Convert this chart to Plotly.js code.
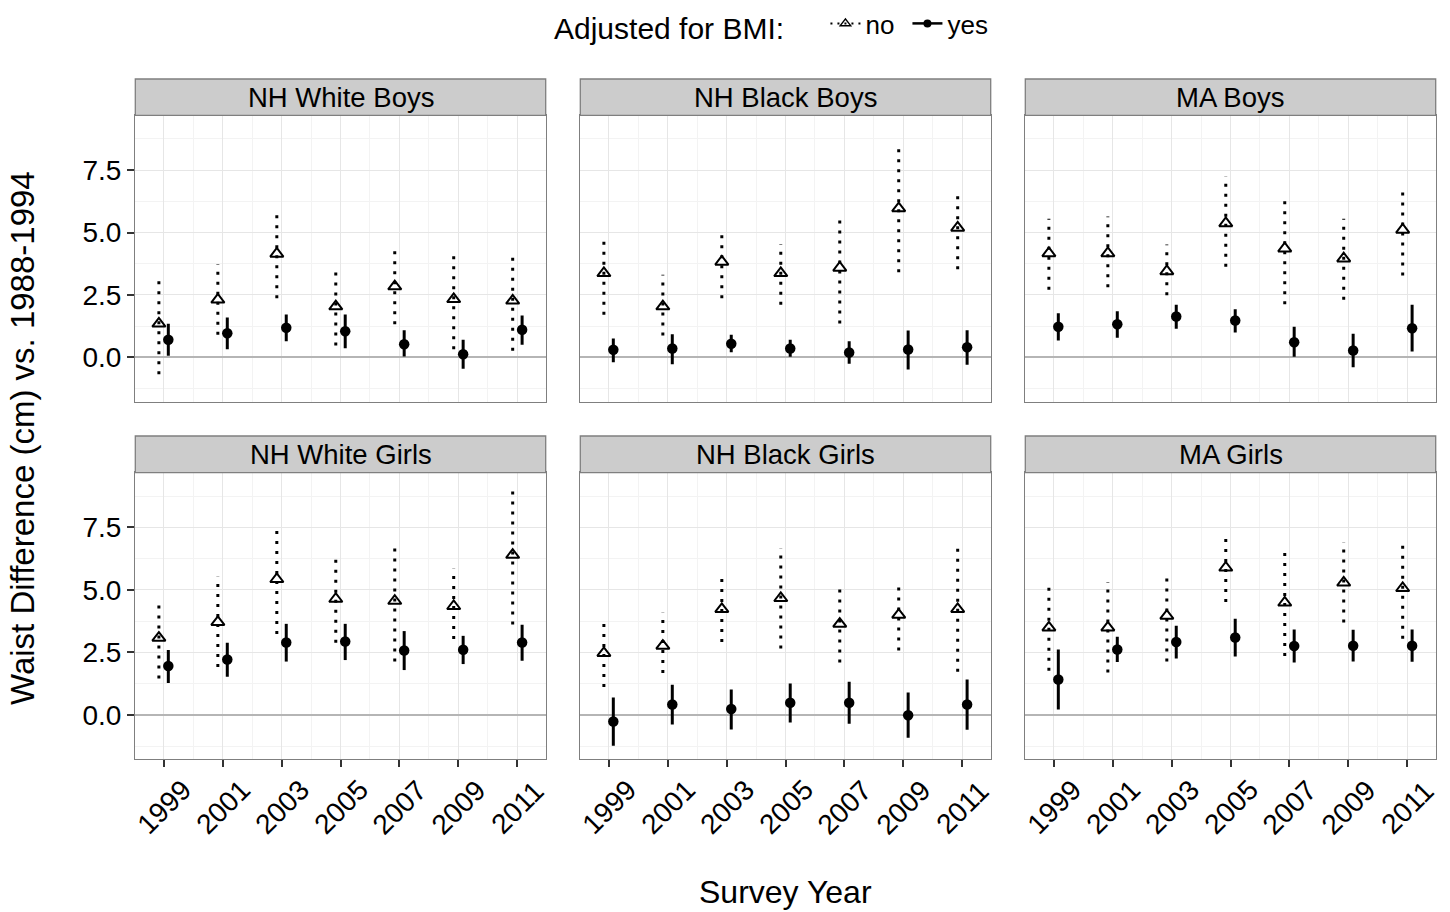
<!DOCTYPE html>
<html>
<head>
<meta charset="utf-8">
<script src="https://cdn.plot.ly/plotly-3.0.1.min.js"></script>
<style>html,body{margin:0;padding:0;background:#fff}#chart{width:1450px;height:912px}</style>
</head>
<body>
<div id="chart"></div>
<script>
// ---- data ----
const years = [1999, 2001, 2003, 2005, 2007, 2009, 2011];
const yearLabels = ['1999', '2001', '2003', '2005', '2007', '2009', '2011'];
const panelNames = ['NH White Boys', 'NH Black Boys', 'MA Boys', 'NH White Girls', 'NH Black Girls', 'MA Girls'];
const seriesNames = ['no', 'yes'];

// Not adjusted for BMI (estimate, lower, upper) — one row per panel
const noEst = [
  [1.35, 2.31, 4.15, 2.04, 2.84, 2.33, 2.27],
  [3.37, 2.04, 3.83, 3.37, 3.59, 5.97, 5.19],
  [4.17, 4.17, 3.45, 5.37, 4.36, 3.96, 5.11],
  [3.08, 3.71, 5.43, 4.64, 4.56, 4.35, 6.40],
  [2.47, 2.76, 4.23, 4.67, 3.64, 4.00, 4.23],
  [3.49, 3.49, 3.96, 5.89, 4.49, 5.29, 5.07]
];
const noLow = [
  [-0.67, 0.91, 2.37, 0.48, 1.33, 0.33, 0.27],
  [1.71, 0.88, 2.37, 2.11, 1.36, 3.41, 3.53],
  [2.71, 2.81, 2.49, 3.63, 2.13, 2.31, 3.28],
  [1.45, 1.91, 3.23, 2.88, 2.13, 3.03, 3.61],
  [1.11, 1.67, 2.91, 2.65, 2.09, 2.57, 1.72],
  [1.76, 1.69, 2.13, 4.51, 2.35, 3.69, 3.04]
];
const noHigh = [
  [3.33, 3.73, 5.97, 3.68, 4.53, 4.27, 4.24],
  [4.88, 3.31, 5.17, 4.53, 5.73, 8.61, 6.72],
  [5.55, 5.64, 4.52, 7.24, 6.47, 5.55, 6.85],
  [4.65, 5.53, 7.61, 6.48, 6.89, 5.85, 9.20],
  [3.91, 4.08, 5.69, 6.67, 5.29, 5.37, 6.91],
  [5.36, 5.31, 5.68, 7.32, 6.75, 6.91, 7.05]
];
// Adjusted for BMI (estimate, lower, upper)
const yesEst = [
  [0.71, 0.97, 1.19, 1.05, 0.53, 0.13, 1.11],
  [0.31, 0.36, 0.55, 0.36, 0.20, 0.32, 0.41],
  [1.23, 1.33, 1.64, 1.48, 0.61, 0.28, 1.17],
  [1.95, 2.21, 2.89, 2.93, 2.57, 2.60, 2.89],
  [-0.27, 0.41, 0.23, 0.48, 0.48, -0.02, 0.41],
  [1.41, 2.61, 2.91, 3.09, 2.75, 2.76, 2.76]
];
const yesLow = [
  [0.07, 0.33, 0.65, 0.37, 0.04, -0.45, 0.51],
  [-0.19, -0.27, 0.21, 0.03, -0.25, -0.48, -0.29],
  [0.68, 0.79, 1.15, 1.00, 0.03, -0.39, 0.24],
  [1.27, 1.52, 2.13, 2.19, 1.79, 2.03, 2.16],
  [-1.24, -0.39, -0.59, -0.31, -0.36, -0.92, -0.60],
  [0.21, 2.11, 2.25, 2.33, 2.09, 2.13, 2.12]
];
const yesHigh = [
  [1.35, 1.60, 1.72, 1.72, 1.09, 0.71, 1.68],
  [0.76, 0.93, 0.91, 0.71, 0.65, 1.08, 1.09],
  [1.77, 1.85, 2.11, 1.93, 1.23, 0.95, 2.11],
  [2.59, 2.88, 3.64, 3.64, 3.35, 3.16, 3.60],
  [0.69, 1.20, 1.01, 1.25, 1.32, 0.89, 1.41],
  [2.61, 3.12, 3.56, 3.84, 3.41, 3.40, 3.41]
];

// ---- layout geometry ----
const W = 1450, H = 912;
const FONT = 'Liberation Sans, Arial, Helvetica, sans-serif';
const colPx = [[135.3, 545.7], [580.3, 990.7], [1025.3, 1435.7]];
const rowPx = [[115.3, 401.7], [472.7, 759]];
const stripPx = [[79, 115.3], [436, 472.7]];
const dodge = 0.16;
const xRange = [1998.04, 2011.96];
const yRange = [-1.77, 9.69];

const traces = [];
const layout = {
  width: W, height: H,
  margin: {l: 0, r: 0, t: 0, b: 0},
  paper_bgcolor: '#ffffff', plot_bgcolor: '#ffffff',
  font: {family: FONT, color: '#000000'},
  showlegend: true,
  legend: {
    orientation: 'h', x: 552 / W, xanchor: 'left', y: 1, yanchor: 'top',
    title: {text: 'Adjusted for BMI:&nbsp;&nbsp;&nbsp;&nbsp;', side: 'left', font: {family: FONT, size: 30, color: '#000'}},
    font: {family: FONT, size: 26, color: '#000'},
    bgcolor: 'rgba(0,0,0,0)', itemwidth: 30, tracegroupgap: 0,
    entrywidth: 37, entrywidthmode: 'pixels'
  },
  shapes: [], annotations: []
};

function lineXY(xs, lo, hi) {
  const x = [], y = [];
  for (let i = 0; i < xs.length; i++) {
    x.push(xs[i], xs[i], null);
    y.push(lo[i], hi[i], null);
  }
  return {x, y};
}

for (let p = 0; p < panelNames.length; p++) {
  const r = Math.floor(p / 3), c = p % 3, idx = p + 1;
  const xa = 'x' + (idx === 1 ? '' : idx), ya = 'y' + (idx === 1 ? '' : idx);
  const xkey = 'xaxis' + (idx === 1 ? '' : idx), ykey = 'yaxis' + (idx === 1 ? '' : idx);
  layout[xkey] = {
    domain: [colPx[c][0] / W, colPx[c][1] / W], anchor: ya, range: xRange,
    tickmode: 'array', tickvals: years, ticktext: yearLabels,
    showticklabels: false, ticks: r === 1 ? 'outside' : '', ticklen: 7, tickwidth: 2, tickcolor: '#333',
    showgrid: true, gridcolor: '#e6e6e6', gridwidth: 1,
    minor: {dtick: 1, tick0: 1999, showgrid: true, gridcolor: '#f3f3f3', gridwidth: 1, ticks: ''},
    zeroline: false, showline: true, mirror: true, linecolor: '#7f7f7f', linewidth: 1.3,
    fixedrange: true
  };
  layout[ykey] = {
    domain: [1 - rowPx[r][1] / H, 1 - rowPx[r][0] / H], anchor: xa, range: yRange,
    tickmode: 'linear', tick0: 0, dtick: 2.5, tickformat: '.1f',
    showticklabels: c === 0, ticks: c === 0 ? 'outside' : '', ticklen: 7, tickwidth: 2, tickcolor: '#333',
    tickfont: {family: FONT, size: 28, color: '#000'},
    showgrid: true, gridcolor: '#e6e6e6', gridwidth: 1,
    minor: {dtick: 1.25, tick0: 0, showgrid: true, gridcolor: '#f3f3f3', gridwidth: 1, ticks: ''},
    zeroline: true, zerolinecolor: '#b5b5b5', zerolinewidth: 2,
    showline: true, mirror: true, linecolor: '#7f7f7f', linewidth: 1.3,
    fixedrange: true
  };

  const xNo = years.map(v => v - dodge);
  const xYes = years.map(v => v + dodge);
  const lNo = lineXY(xNo, noLow[p], noHigh[p]);
  const lYes = lineXY(xYes, yesLow[p], yesHigh[p]);
  traces.push({type: 'scatter', mode: 'lines', x: lNo.x, y: lNo.y, xaxis: xa, yaxis: ya,
    line: {color: '#000', width: 3, dash: '3px,7px'}, showlegend: false, hoverinfo: 'skip', connectgaps: false});
  traces.push({type: 'scatter', mode: 'lines', x: lYes.x, y: lYes.y, xaxis: xa, yaxis: ya,
    line: {color: '#000', width: 3}, showlegend: false, hoverinfo: 'skip', connectgaps: false});
  traces.push({type: 'scatter', mode: 'markers', x: xNo, y: noEst[p], xaxis: xa, yaxis: ya, name: seriesNames[0],
    marker: {symbol: 'triangle-up-open', size: 11.5, color: '#000', line: {color: '#000', width: 2}}, showlegend: false});
  traces.push({type: 'scatter', mode: 'markers', x: xYes, y: yesEst[p], xaxis: xa, yaxis: ya, name: seriesNames[1],
    marker: {symbol: 'circle', size: 10.5, color: '#000'}, showlegend: false});

  // strip
  layout.shapes.push({type: 'rect', xref: 'paper', yref: 'paper', layer: 'above',
    x0: colPx[c][0] / W, x1: colPx[c][1] / W, y0: 1 - stripPx[r][1] / H, y1: 1 - stripPx[r][0] / H,
    fillcolor: '#cccccc', line: {color: '#7f7f7f', width: 1.3}});
  layout.annotations.push({xref: 'paper', yref: 'paper', showarrow: false,
    x: (colPx[c][0] + colPx[c][1]) / 2 / W, y: 1 - (stripPx[r][0] + stripPx[r][1]) / 2 / H,
    xanchor: 'center', yanchor: 'middle', text: panelNames[p],
    font: {family: FONT, size: 27.5, color: '#000'}});

  // rotated x tick labels, centred on each tick (bottom row only)
  if (r === 1) {
    for (let i = 0; i < years.length; i++) {
      layout.annotations.push({xref: xa, yref: 'paper', showarrow: false,
        x: years[i], y: 1 - 807 / H, xanchor: 'center', yanchor: 'middle', textangle: -45,
        text: yearLabels[i], font: {family: FONT, size: 28, color: '#000'}});
    }
  }
}

// legend-only keys
traces.push({type: 'scatter', mode: 'lines+markers', x: [null], y: [null], name: seriesNames[0],
  line: {color: '#000', width: 2, dash: '2px,5px'},
  marker: {symbol: 'triangle-up-open', size: 9, color: '#000', line: {color: '#000', width: 1.5}}});
traces.push({type: 'scatter', mode: 'lines+markers', x: [null], y: [null], name: seriesNames[1],
  line: {color: '#000', width: 2.5},
  marker: {symbol: 'circle', size: 8, color: '#000'}});

// axis titles
layout.annotations.push({xref: 'paper', yref: 'paper', showarrow: false,
  x: 785.5 / W, y: 1 - 892 / H, xanchor: 'center', yanchor: 'middle',
  text: 'Survey Year', font: {family: FONT, size: 32, color: '#000'}});
layout.annotations.push({xref: 'paper', yref: 'paper', showarrow: false,
  x: 22 / W, y: 1 - 438 / H, xanchor: 'center', yanchor: 'middle', textangle: -90,
  text: 'Waist Difference (cm) vs. 1988-1994', font: {family: FONT, size: 33, color: '#000'}});

Plotly.newPlot('chart', traces, layout, {staticPlot: true, displayModeBar: false});
</script>
</body>
</html>
